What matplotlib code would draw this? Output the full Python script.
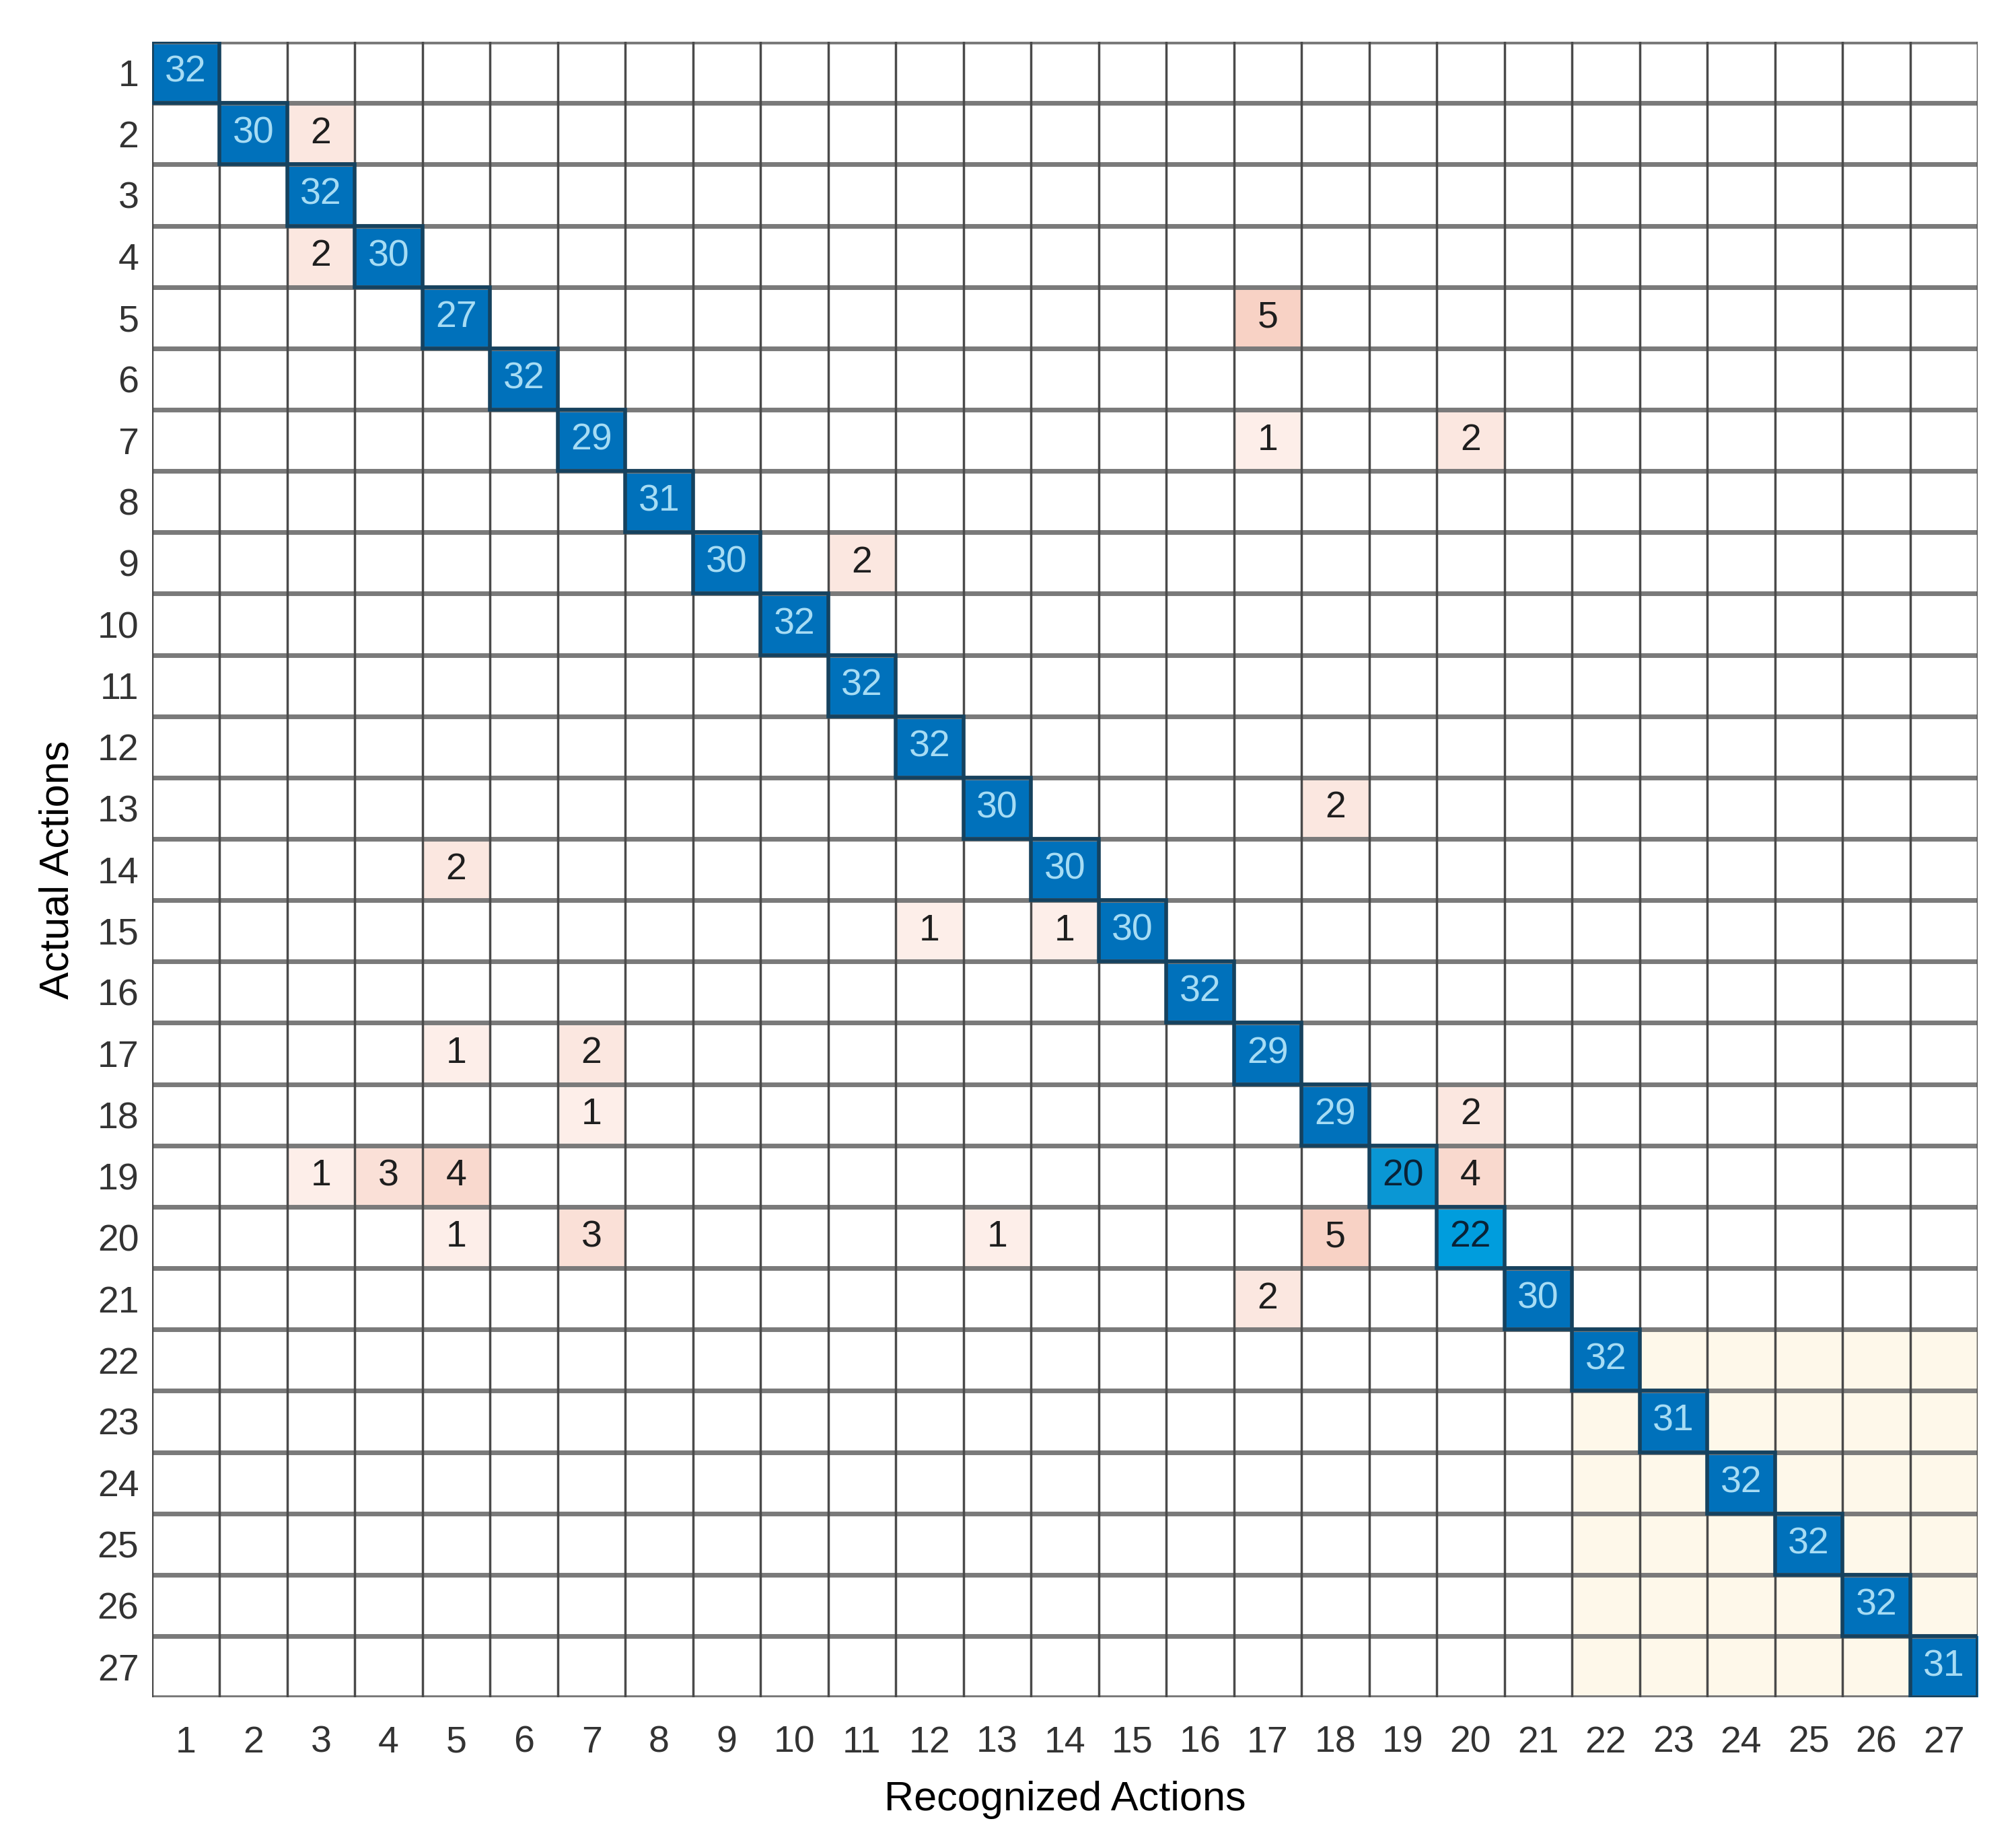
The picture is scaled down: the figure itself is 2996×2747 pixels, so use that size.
import matplotlib.pyplot as plt
import numpy as np
from matplotlib import font_manager

# Confusion matrix data (rows: actual, cols: recognized), 1-based labels
labels = [str(i) for i in range(1, 28)]
diag_counts = [32, 30, 32, 30, 27, 32, 29, 31, 30, 32, 32, 32, 30, 30, 30,
               32, 29, 29, 20, 22, 30, 32, 31, 32, 32, 32, 31]
# off-diagonal entries: (actual, recognized, count)
off_rows = [2, 4, 5, 7, 7, 9, 13, 14, 15, 15, 17, 17, 18, 18, 19, 19, 19, 19, 20, 20, 20, 20, 21]
off_cols = [3, 3, 17, 17, 20, 11, 18, 5, 12, 14, 5, 7, 7, 20, 3, 4, 5, 20, 5, 7, 13, 18, 17]
off_vals = [2, 2, 5, 1, 2, 2, 2, 2, 1, 1, 1, 2, 1, 2, 1, 3, 4, 4, 1, 3, 1, 5, 2]
highlight_block = [22, 27]  # shaded block of classes

n = len(labels)
cm = np.zeros((n, n), dtype=int)
for i, v in enumerate(diag_counts):
    cm[i, i] = v
for r, c, v in zip(off_rows, off_cols, off_vals):
    cm[r - 1, c - 1] = v

names = [f.name for f in font_manager.fontManager.ttflist]
fam = "Liberation Sans Narrow" if "Liberation Sans Narrow" in names else "Liberation Sans"
plt.rcParams["font.family"] = [fam, "DejaVu Sans"]


def mix(c1, c2, t):
    c1 = np.array(plt.matplotlib.colors.to_rgb(c1))
    c2 = np.array(plt.matplotlib.colors.to_rgb(c2))
    return c1 + (c2 - c1) * t


img = np.ones((n, n, 3))
lo, hi = highlight_block
for i in range(n):
    for j in range(n):
        v = cm[i, j]
        if i == j:
            # weaker diagonal cells are drawn in a lighter blue
            img[i, j] = mix("#0a97d4", "#009ddd", (v - 20) / 2) if v < 25 else mix("#0071bb", "#0071bb", 0)
        elif v > 0:
            img[i, j] = mix("#fdeee9", "#f8d2c5", (v - 1) / 4)
        elif lo - 1 <= i <= hi - 1 and lo - 1 <= j <= hi - 1:
            img[i, j] = plt.matplotlib.colors.to_rgb("#fef8ea")

fig = plt.figure(figsize=(29.96, 27.47), dpi=100)
ax = fig.add_axes([0.0754, 0.0815, 0.9056, 0.8959])
ax.imshow(img, extent=(0.5, n + 0.5, n + 0.5, 0.5), aspect="auto", interpolation="nearest")

for k in range(n + 1):
    ax.axhline(k + 0.5, color="#7a7a7a", lw=5, zorder=2)
    ax.axvline(k + 0.5, color="#4a4a4a", lw=2.5, zorder=3)

for i in range(n):
    for j in range(n):
        v = cm[i, j]
        if v == 0:
            continue
        if i == j:
            col = "#a6dcf4" if v >= 25 else "#0a2236"
            ax.add_patch(plt.Rectangle((j + 0.5, i + 0.5), 1, 1, fill=False,
                                       ec="#15425f", lw=4, zorder=4))
        else:
            col = "#1e1e1e"
        ax.text(j + 1, i + 1, str(v), ha="center", va="center",
                fontsize=40, color=col, zorder=5)

ax.set_xlim(0.5, n + 0.5)
ax.set_ylim(n + 0.5, 0.5)
ax.set_xticks(range(1, n + 1))
ax.set_yticks(range(1, n + 1))
ax.set_xticklabels(labels)
ax.set_yticklabels(labels)
ax.tick_params(length=0, labelsize=40, colors="#333333")
ax.tick_params(axis="x", pad=30)
ax.tick_params(axis="y", pad=14)
for s in ax.spines.values():
    s.set_visible(False)
ax.set_xlabel("Recognized Actions", fontsize=44, labelpad=22)
ax.set_ylabel("Actual Actions", fontsize=44, labelpad=22)

fig.savefig("out.png", dpi=100, facecolor="white")
